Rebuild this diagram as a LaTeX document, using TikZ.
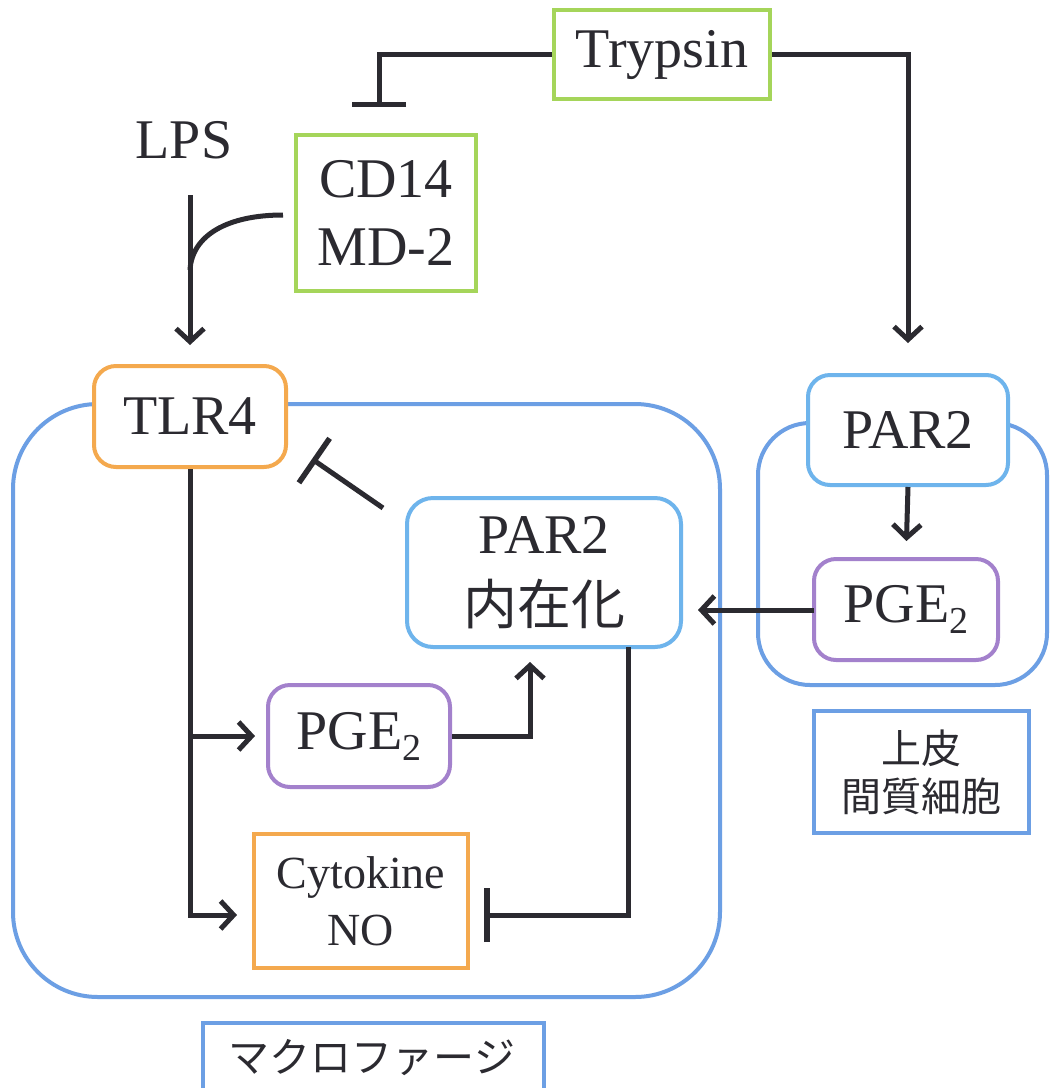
\documentclass[tikz,border=0pt]{standalone}
\usepackage{fontspec}
\setmainfont{Liberation Serif}
\newfontfamily\jp{Noto Sans CJK JP}
\usetikzlibrary{arrows.meta}
\definecolor{cgreen}{HTML}{A5D55A}
\definecolor{corange}{HTML}{F4A94E}
\definecolor{clblue}{HTML}{6EB4EC}
\definecolor{ccell}{HTML}{6C9FE4}
\definecolor{cpurple}{HTML}{A381CC}
\definecolor{cink}{HTML}{2B2A30}
\newcommand{\subtwo}{\raisebox{-11pt}{\fontsize{38}{38}\selectfont 2}}
\tikzset{
  box/.style={draw, line width=4pt, fill=white, inner sep=0pt, align=center,
    font=\fontsize{56}{68}\selectfont, text=cink},
  rbox/.style={box, rounded corners=22pt},
  cellline/.style={draw=ccell, line width=4pt, rounded corners=#1},
  conn/.style={draw=cink, line width=5pt},
  act/.style={conn, -{Straight Barb[length=13pt,width=28pt,line width=5pt]}},
  inhib/.style={conn, -{Bar[width=54pt,line width=5.5pt]}},
}
\begin{document}
\begin{tikzpicture}[x=1pt,y=-1pt]
\useasboundingbox (0,0) rectangle (1051,1088);
\fill[white] (0,0) rectangle (1051,1088);
% cells
\draw[cellline=85pt] (13,404) rectangle (720,997);
\draw[cellline=52pt] (758,423) rectangle (1047,685);
% nodes
\node[box, draw=cgreen, minimum width=216pt, minimum height=89pt] (trypsin) at (662,54.5) {Trypsin};
\node[box, draw=cgreen, minimum width=180pt, minimum height=156pt] (cd14) at (386,213) {CD14\\MD-2};
\node[font=\fontsize{56}{68}\selectfont, text=cink] (lps) at (184,140) {LPS};
\node[rbox, draw=corange, minimum width=192pt, minimum height=101pt] (tlr4) at (190,416.5) {TLR4};
\node[rbox, draw=clblue, rounded corners=26pt, minimum width=274pt, minimum height=149pt, font=\fontsize{56}{71}\selectfont] (par2int) at (544,572.5) {PAR2\\{\jp\fontsize{54}{71}\selectfont 内在化}};
\node[rbox, draw=cpurple, minimum width=182pt, minimum height=102pt] (pgeL) at (359,736) {PGE\subtwo};
\node[box, draw=corange, minimum width=214pt, minimum height=134pt, font=\fontsize{46}{57}\selectfont] (cyto) at (361,901) {Cytokine\\NO};
\node[rbox, draw=clblue, minimum width=200pt, minimum height=110pt] (par2R) at (908,430) {PAR2};
\node[rbox, draw=cpurple, minimum width=184pt, minimum height=101pt] (pgeR) at (906,609.5) {PGE\subtwo};
\node[box, draw=ccell, minimum width=215pt, minimum height=122pt, font=\jp\fontsize{40}{48}\selectfont] (epi) at (921.5,772) {上皮\\間質細胞};
\begin{scope}
\clip (0,0) rectangle (1051,1088);
\draw[ccell, line width=4pt] (203,1100) rectangle (544,1023);
\end{scope}
\node[font=\jp\fontsize{41}{48}\selectfont, text=cink] (macro) at (372,1058) {マクロファージ};
% coordinates
\coordinate (cdbar) at (379,107);
\coordinate (lpsA) at (190,195);
\coordinate (cdA) at (283,215);
\coordinate (cdB) at (190,270);
\coordinate (cytoIn) at (254,915);
\coordinate (tlrBranch) at (190,736);
\coordinate (p2in) at (530,647);
\coordinate (p2out) at (628,647);
\coordinate (cytoBar) at (484,915);
\coordinate (p2tA) at (383,508);
\coordinate (p2tB) at (312,459);
\coordinate (p2inR) at (681,610);
\coordinate (pgeRw) at (814,610);
% connectors
\draw[inhib] (trypsin.west) -| (cdbar);
\draw[act, shorten >=30pt] (trypsin.east) -| (par2R.north);
\draw[act, shorten >=19pt] (lpsA) -- (tlr4.north);
\draw[conn] (cdA) .. controls (228,215) and (192,235) .. (cdB);
\draw[act, shorten >=17pt] (tlr4.south) |- (cytoIn);
\draw[act, shorten >=11pt] (tlrBranch) -- (pgeL.west);
\draw[act, shorten >=15pt] (pgeL.east) -| (p2in);
\draw[inhib] (p2out) |- (cytoBar);
\draw[inhib] (p2tA) -- (p2tB);
\draw[act, shorten >=16pt] (par2R.south) -- (pgeR.north);
\draw[act, shorten >=17pt] (pgeRw) -- (p2inR);
\end{tikzpicture}
\end{document}
